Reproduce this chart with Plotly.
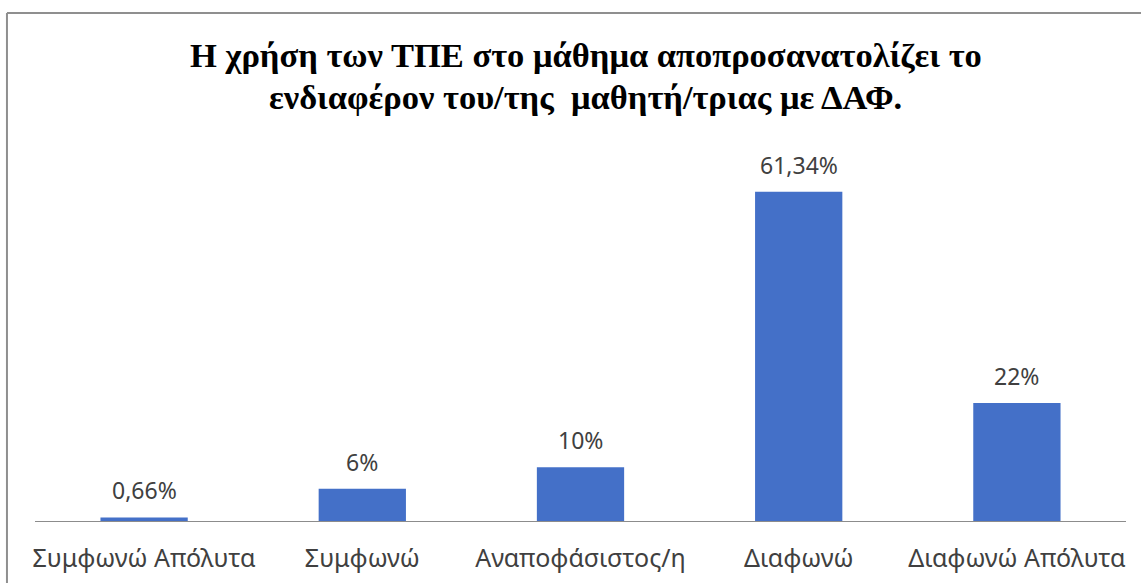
import plotly.graph_objects as go

categories = ["Συμφωνώ Απόλυτα", "Συμφωνώ", "Αναποφάσιστος/η", "Διαφωνώ", "Διαφωνώ Απόλυτα"]
values = [0.66, 6, 10, 61.34, 22]
value_labels = ["0,66%", "6%", "10%", "61,34%", "22%"]
title_lines = ["Η χρήση των ΤΠΕ στο μάθημα αποπροσανατολίζει το",
               "ενδιαφέρον του/της  μαθητή/τριας με ΔΑΦ."]

fig = go.Figure()
fig.add_trace(go.Bar(
    x=categories,
    y=values,
    marker=dict(color="#4470c8", line=dict(width=0)),
    width=0.4,
    cliponaxis=False,
))

annotations = []
for c, v, t in zip(categories, values, value_labels):
    annotations.append(dict(
        x=c, y=v, xref="x", yref="y", text=t, showarrow=False,
        yanchor="middle", yshift=27,
        font=dict(family="Noto Sans", size=23, color="#404040"),
    ))

for line, ypos in zip(title_lines, [1.223, 1.113]):
    annotations.append(dict(
        text="<b>" + line + "</b>",
        x=0.505, y=ypos, xref="paper", yref="paper",
        xanchor="center", yanchor="middle", showarrow=False,
        font=dict(family="Liberation Serif", size=34.5, color="black"),
    ))

fig.update_layout(
    width=1141, height=583,
    margin=dict(l=35, r=15, t=140, b=62, autoexpand=False),
    paper_bgcolor="white", plot_bgcolor="white",
    showlegend=False,
    font=dict(family="Noto Sans", color="#404040"),
    xaxis=dict(
        showline=True, linecolor="#8c8c8c", linewidth=1,
        showgrid=False, ticks="", automargin=False,
        tickfont=dict(family="Noto Sans", size=25, color="#404040"),
        ticklabelstandoff=15,
    ),
    yaxis=dict(range=[0, 71], visible=False, showgrid=False, zeroline=False, automargin=False),
    annotations=annotations,
    shapes=[
        dict(type="line", xref="paper", yref="paper", x0=-0.0257, x1=1.05, y0=1.3333, y1=1.3333,
             line=dict(color="#8f8f8f", width=2)),
        dict(type="line", xref="paper", yref="paper", x0=-0.0257, x1=-0.0257, y0=1.3333, y1=-0.3,
             line=dict(color="#8f8f8f", width=2)),
    ],
)

fig.write_html("out.html")
